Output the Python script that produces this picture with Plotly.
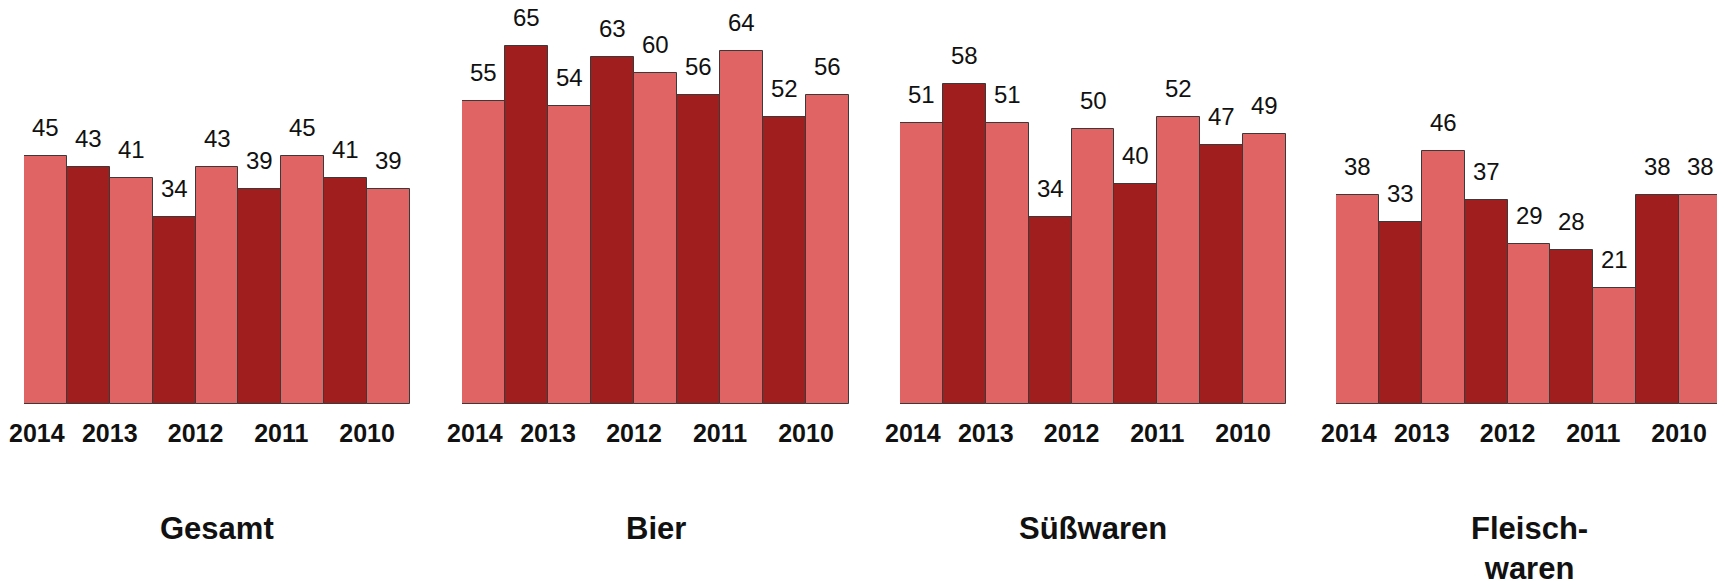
import plotly.graph_objects as go
from plotly.subplots import make_subplots

# data
categories = ["Gesamt", "Bier", "Süßwaren", "Fleisch-<br>waren"]
gesamt = [45, 43, 41, 34, 43, 39, 45, 41, 39]
bier = [55, 65, 54, 63, 60, 56, 64, 52, 56]
suesswaren = [51, 58, 51, 34, 50, 40, 52, 47, 49]
fleischwaren = [38, 33, 46, 37, 29, 28, 21, 38, 38]
year_labels = ["2014", "2013", "2012", "2011", "2010"]
year_pos = [-0.2, 1.5, 3.5, 5.5, 7.5]

series = [gesamt, bier, suesswaren, fleischwaren]

LIGHT = "#E06464"
DARK = "#A01E1E"
W, H = 1725, 581
OFF = 8          # page body margin
BASE = 404 - OFF  # baseline in figure px

fig = make_subplots(rows=1, cols=4)

# pixel extents of each group of bars (page px)
group_px = [(24, 410), (462, 849), (900, 1286), (1336, 1722)]

for g, values in enumerate(series):
    col = g + 1
    sfx = str(col) if col > 1 else ""
    colors = [LIGHT if i % 2 == 0 else DARK for i in range(len(values))]
    fig.add_trace(go.Bar(
        x=list(range(len(values))),
        y=values,
        marker=dict(color=colors, line=dict(color="#3a3a3a", width=1)),
        showlegend=False,
        hoverinfo="skip",
    ), row=1, col=col)

    for i, v in enumerate(values):
        fig.add_annotation(
            x=i, y=v, xref="x" + sfx, yref="y" + sfx,
            text=str(v), showarrow=False, yanchor="bottom", yshift=13,
            font=dict(size=24, color="#111111"),
        )

    fig.add_annotation(
        x=0.5, y=(BASE - (509 - OFF)) / BASE,
        xref="x" + sfx + " domain", yref="paper",
        text=f"<b>{categories[g]}</b>", showarrow=False,
        xanchor="center", yanchor="top",
        font=dict(size=31, color="#111111"),
    )

    x0, x1 = group_px[g]
    fig.update_xaxes(
        domain=[(x0 - OFF) / W, (x1 - OFF) / W], range=[-0.5, 8.5],
        tickvals=year_pos, ticktext=[f"<b>{t}</b>" for t in year_labels],
        tickfont=dict(size=25, color="#111111"),
        ticks="", ticklabelstandoff=12, automargin=False,
        showgrid=False, zeroline=False, showline=False,
        fixedrange=True, row=1, col=col,
    )
    fig.update_yaxes(
        range=[0, BASE / 5.51], visible=False, showgrid=False,
        automargin=False, row=1, col=col,
    )

fig.update_layout(
    width=W, height=H,
    margin=dict(l=0, r=0, t=0, b=H - BASE, autoexpand=False),
    bargap=0,
    plot_bgcolor="white",
    paper_bgcolor="white",
    font=dict(family="Liberation Sans, Arial, sans-serif"),
)

fig.write_html("out.html")
